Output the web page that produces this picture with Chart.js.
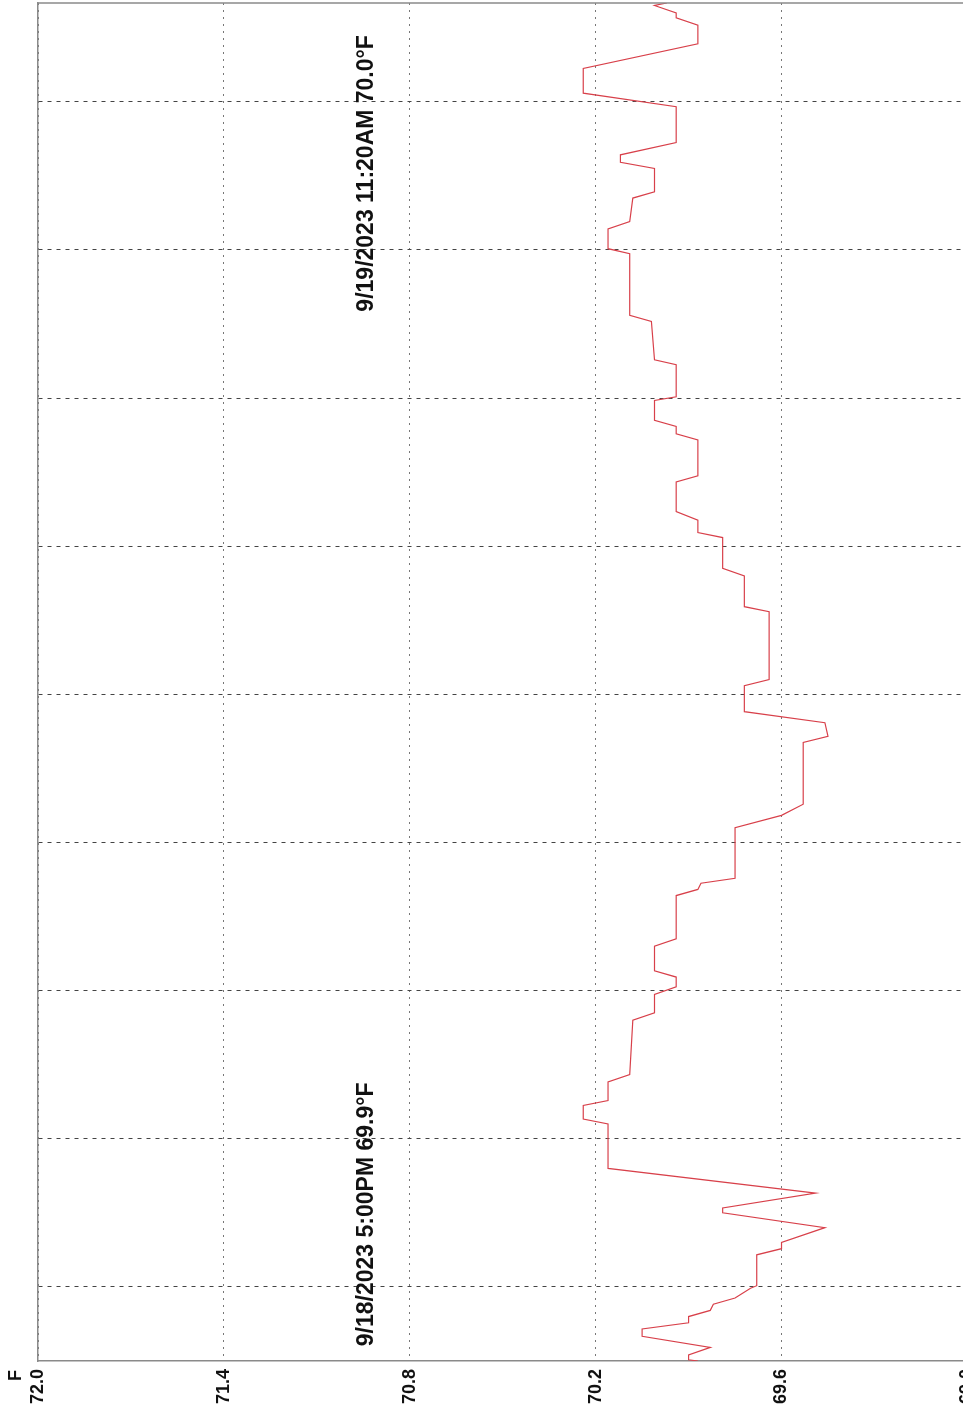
<!DOCTYPE html>
<html>
<head>
<meta charset="utf-8">
<script src="https://cdn.jsdelivr.net/npm/chart.js@4/dist/chart.umd.min.js"></script>
<style>
  html, body { margin: 0; padding: 0; overflow: hidden; background: #fff; }
  #wrap { position: absolute; left: 0; top: 0; }
</style>
</head>
<body>
<div id="wrap"><canvas id="tempChart" width="968" height="1416"></canvas></div>
<script>
// Minutes since 9/18/2023 5:00PM (bottom of chart) and logged temperature (F)
const minutes = [0, 1, 5, 11, 20, 26, 31, 36, 41, 46,
  51, 59, 61, 86, 91, 96, 108, 120, 124, 136,
  156, 192, 196, 207, 211, 226, 232, 276, 282, 297,
  303, 311, 316, 336, 342, 377, 382, 387, 391, 432,
  442, 451, 501, 506, 517, 526, 547, 552, 607, 611,
  636, 642, 667, 671, 681, 688, 712, 717, 746, 751,
  757, 762, 778, 781, 807, 811, 842, 847, 897, 901,
  917, 923, 942, 947, 966, 971, 977, 987, 1016, 1027,
  1047, 1067, 1082, 1088, 1092, 1098, 1100];

const tempsF = [69.87, 69.90, 69.90, 69.83, 70.05, 70.05, 69.90, 69.90, 69.83, 69.82,
  69.75, 69.70, 69.68, 69.68, 69.60, 69.60, 69.46, 69.79, 69.79, 69.49,
  70.16, 70.16, 70.24, 70.24, 70.16, 70.16, 70.09, 70.08, 70.01, 70.01,
  69.94, 69.94, 70.01, 70.01, 69.94, 69.94, 69.87, 69.86, 69.75, 69.75,
  69.60, 69.53, 69.53, 69.45, 69.46, 69.72, 69.72, 69.64, 69.64, 69.72,
  69.72, 69.79, 69.79, 69.87, 69.87, 69.94, 69.94, 69.87, 69.87, 69.94,
  69.94, 70.01, 70.01, 69.94, 69.94, 70.01, 70.02, 70.09, 70.09, 70.16,
  70.16, 70.09, 70.08, 70.01, 70.01, 70.12, 70.12, 69.94, 69.94, 70.24,
  70.24, 69.87, 69.87, 69.94, 69.94, 70.01, 69.97];

const tempTicks = [69.0, 69.6, 70.2, 70.8, 71.4, 72.0];
// grid every 2 hours, starting 6:00PM
const gridMinutes = [60, 180, 300, 420, 540, 660, 780, 900, 1020];
const notes = ["9/18/2023 5:00PM 69.9°F", "9/19/2023 11:20AM 70.0°F"];

const points = minutes.map((m, i) => ({ x: tempsF[i], y: m }));

// teks anotasi, label unit dan garis atas
const extras = {
  id: "extras",
  afterDraw(chart) {
    const ctx = chart.ctx;
    const area = chart.chartArea;
    const sx = chart.scales.x;
    const sy = chart.scales.y;
    ctx.save();
    ctx.strokeStyle = "#8a8a8a";
    ctx.lineWidth = 1.5;
    ctx.beginPath();
    ctx.moveTo(area.left, area.top);
    ctx.lineTo(area.right, area.top);
    ctx.stroke();

    ctx.fillStyle = "#111";
    ctx.font = "bold 23px 'Liberation Sans', Arial, sans-serif";
    ctx.textBaseline = "middle";
    ctx.textAlign = "left";
    const noteX = sx.getPixelForValue(70.94);
    [12, 850].forEach((m, i) => {
      ctx.save();
      ctx.translate(noteX, sy.getPixelForValue(m));
      ctx.rotate(-Math.PI / 2);
      ctx.fillText(notes[i], 0, 0);
      ctx.restore();
    });

    ctx.font = "bold 18px 'Liberation Sans', Arial, sans-serif";
    ctx.textAlign = "right";
    ctx.translate(area.left - 22, area.bottom + 9);
    ctx.rotate(-Math.PI / 2);
    ctx.fillText("F", 0, 0);
    ctx.restore();
  },
};

new Chart(document.getElementById("tempChart").getContext("2d"), {
  type: "scatter",
  data: {
    datasets: [
      {
        label: "Temperature",
        data: points,
        showLine: true,
        borderColor: "#d8404a",
        borderWidth: 1.2,
        pointRadius: 0,
        fill: false,
      },
    ],
  },
  options: {
    responsive: false,
    animation: false,
    layout: { padding: { top: 3, left: 0, right: 0, bottom: 0 } },
    plugins: {
      legend: { display: false },
      tooltip: { enabled: false },
    },
    scales: {
      x: {
        type: "linear",
        position: "bottom",
        reverse: true,
        min: 69.0,
        max: 72.0,
        afterBuildTicks: (scale) => {
          scale.ticks = tempTicks.map((v) => ({ value: v }));
        },
        afterFit: (scale) => {
          scale.height = 55;
        },
        ticks: {
          minRotation: 90,
          maxRotation: 90,
          padding: 8,
          color: "#111",
          font: { family: "'Liberation Sans', Arial, sans-serif", size: 18, weight: "bold" },
          callback: (v) => Number(v).toFixed(1),
        },
        grid: {
          color: "#777",
          lineWidth: 1,
          drawTicks: false,
          tickBorderDash: [2, 5],
        },
        border: { display: true, color: "#8a8a8a", width: 1.5, dash: [2, 5] },
      },
      y: {
        type: "linear",
        min: 0,
        max: 1100,
        afterBuildTicks: (scale) => {
          scale.ticks = gridMinutes.map((v) => ({ value: v }));
        },
        afterFit: (scale) => {
          scale.width = 38;
        },
        ticks: { display: false },
        grid: {
          color: "#444",
          lineWidth: 1,
          drawTicks: false,
        },
        border: { display: true, color: "#8a8a8a", width: 1.5, dash: [4, 5] },
      },
    },
  },
  plugins: [extras],
});

// border dash in v4 belongs to the grid lines, the axis lines stay solid
const ch = Chart.getChart("tempChart");
ch.options.scales.x.border.dash = [2, 5];
ch.options.scales.y.border.dash = [4, 5];
ch.update();
</script>
</body>
</html>
